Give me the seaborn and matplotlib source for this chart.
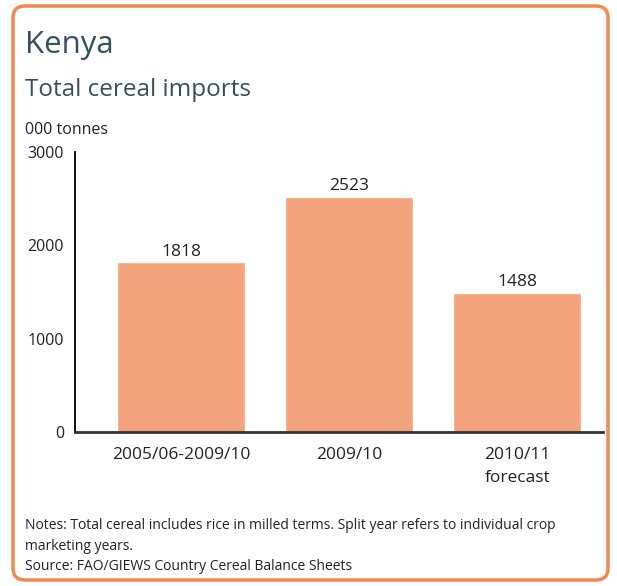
import matplotlib
matplotlib.use("Agg")
import matplotlib.pyplot as plt
import seaborn as sns
import pandas as pd
from matplotlib.patches import FancyBboxPatch

categories = ["2005/06-2009/10", "2009/10", "2010/11\nforecast"]
imports = [1818, 2523, 1488]
yticks = [0, 1000, 2000, 3000]

sns.set_theme(style="white")
plt.rcParams['font.family'] = ['Open Sans', 'DejaVu Sans']

df = pd.DataFrame({"period": categories, "imports": imports})

fig = plt.figure(figsize=(6.17, 5.86), dpi=100)
fig.patch.set_facecolor("white")

border = FancyBboxPatch((13/617, 1 - 580/586), (608 - 13)/617, (580 - 6)/586,
                        boxstyle="round,pad=0,rounding_size=0.02",
                        transform=fig.transFigure, facecolor="none",
                        edgecolor="#EE8A50", linewidth=2.5, zorder=5)
fig.patches.append(border)

ax = fig.add_axes([75/617, 1 - 432/586, (603 - 75)/617, (432 - 152)/586])
ax.set_facecolor("none")
sns.barplot(data=df, x="period", y="imports", color="#F4A27C", saturation=1,
            width=0.76, ax=ax)
ax.set_xlim(-0.63, 2.51)
ax.set_ylim(0, 3000)
ax.set_yticks(yticks)
ax.set_yticklabels([str(v) for v in yticks], fontsize=11.5, color="#222222")
ax.tick_params(axis="y", length=0, pad=8)
ax.tick_params(axis="x", length=0, pad=10.5, labelsize=12.5, labelcolor="#222222")
for lab in ax.get_xticklabels():
    lab.set_linespacing(1.6)
ax.set_xlabel("")
ax.set_ylabel("")
for s in ["top", "right"]:
    ax.spines[s].set_visible(False)
ax.spines["left"].set_color("#111111")
ax.spines["left"].set_linewidth(1.4)
ax.spines["bottom"].set_color("#333333")
ax.spines["bottom"].set_linewidth(2)

for i, v in enumerate(imports):
    ax.text(i, v + 30, str(v), ha="center", va="bottom", fontsize=12.5, color="#222222")

fig.text(25/617, 1 - 45/586, "Kenya", fontsize=22.5, color="#34505F", va="center", ha="left")
fig.text(25/617, 1 - 90/586, "Total cereal imports", fontsize=17.5, color="#34505F", va="center", ha="left")
fig.text(25/617, 1 - 130/586, "000 tonnes", fontsize=11.5, color="#222222", va="center", ha="left")

notes = ("Notes: Total cereal includes rice in milled terms. Split year refers to individual crop\n"
         "marketing years.\n"
         "Source: FAO/GIEWS Country Cereal Balance Sheets")
fig.text(25/617, 1 - 518/586, notes, fontsize=10, color="#222222", va="top", ha="left",
         linespacing=1.5)

fig.savefig("out.png", dpi=100, facecolor="white")
